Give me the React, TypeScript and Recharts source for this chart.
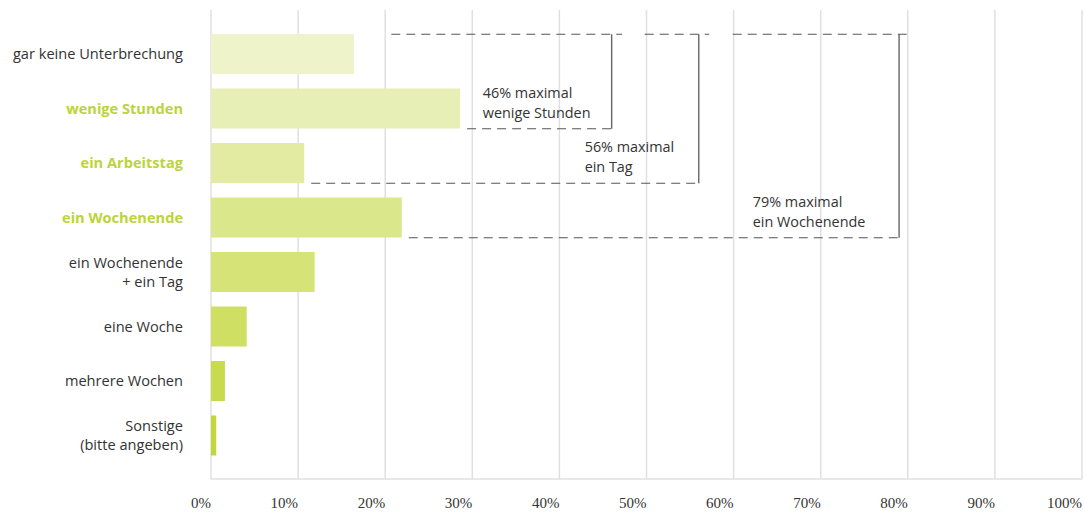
import React from 'react';
import {
  BarChart,
  Bar,
  XAxis,
  YAxis,
  CartesianGrid,
  Cell,
  ReferenceLine,
  ReferenceDot,
} from 'recharts';

// ---- data ----
const categories = [
  'gar keine Unterbrechung',
  'wenige Stunden',
  'ein Arbeitstag',
  'ein Wochenende',
  'ein Wochenende\n+ ein Tag',
  'eine Woche',
  'mehrere Wochen',
  'Sonstige\n(bitte angeben)',
];
const values = [16.4, 28.6, 10.7, 21.9, 11.9, 4.1, 1.6, 0.6];
const highlighted = ['wenige Stunden', 'ein Arbeitstag', 'ein Wochenende'];
const barColors = [
  '#eef3c9',
  '#e8efb6',
  '#e2eba1',
  '#dbe78b',
  '#d5e377',
  '#cfdf63',
  '#c8da4e',
  '#c3d73c',
];
const xTicks = [0, 10, 20, 30, 40, 50, 60, 70, 80, 90, 100];

// cumulative brackets
const bracketTotals = [46, 56, 79];
const bracketEndIndex = [1, 2, 3];
const bracketLabels = [
  ['46% maximal', 'wenige Stunden'],
  ['56% maximal', 'ein Tag'],
  ['79% maximal', 'ein Wochenende'],
];
const bracketTopStart = [20.7, 49.8, 59.9];
const bracketTopOverhang = 1.2;
const bracketLabelX = [31.2, 42.9, 62.2];

const data = categories.map((name, i) => ({ name, value: values[i] }));

// ---- styles ----
const GREEN = '#bcd43a';
const TEXT = '#333333';
const GRID = '#e0e0e0';
const HALF_BAR = 20;
const DASH_COLOR = '#555555';

const YTick = (props: any) => {
  const { x, y, payload } = props;
  const label = String(payload.value);
  const lines = label.split('\n');
  const hl = highlighted.includes(label);
  const lh = 19;
  const start = y - ((lines.length - 1) * lh) / 2 + 5;
  return (
    <text
      textAnchor="end"
      fontFamily="'Open Sans', sans-serif"
      fontSize={14.6}
      fontWeight={hl ? 700 : 400}
      fill={hl ? GREEN : TEXT}
    >
      {lines.map((l, i) => (
        <tspan key={i} x={x} y={start + i * lh}>
          {l}
        </tspan>
      ))}
    </text>
  );
};

const XTick = (props: any) => {
  const { x, y, payload } = props;
  return (
    <text
      x={x}
      y={y + 29}
      textAnchor="end"
      fontFamily="'Liberation Serif', serif"
      fontSize={15}
      fill={TEXT}
    >
      {payload.value}%
    </text>
  );
};

const TopDash = (p: any) => (
  <line
    x1={p.x1}
    y1={p.y1 - HALF_BAR}
    x2={p.x2}
    y2={p.y2 - HALF_BAR}
    stroke={DASH_COLOR}
    strokeWidth={1.2}
    strokeDasharray="9 6"
  />
);

const BottomDash = (p: any) => (
  <line
    x1={p.x1 + 7}
    y1={p.y1 + HALF_BAR}
    x2={p.x2}
    y2={p.y2 + HALF_BAR}
    stroke={DASH_COLOR}
    strokeWidth={1.2}
    strokeDasharray="9 6"
  />
);

const Vertical = (p: any) => (
  <line
    x1={p.x1}
    y1={p.y1 - HALF_BAR}
    x2={p.x2}
    y2={p.y2 + HALF_BAR}
    stroke="#666666"
    strokeWidth={1.4}
  />
);

const makeLabel = (lines: string[]) => (p: any) => (
  <text fontFamily="'Open Sans', sans-serif" fontSize={14.4} fill={TEXT}>
    <tspan x={p.cx} y={p.cy - 11}>
      {lines[0]}
    </tspan>
    <tspan x={p.cx} y={p.cy + 9}>
      {lines[1]}
    </tspan>
  </text>
);

export default function App() {
  return (
    <div style={{ position: 'absolute', left: 0, top: 0 }}>
      <BarChart
        width={1085}
        height={513}
        data={data}
        layout="vertical"
        margin={{ top: 10, right: 3, bottom: 4, left: 0 }}
      >
        <CartesianGrid
          horizontal={false}
          vertical={true}
          stroke={GRID}
          strokeWidth={1.5}
        />
        <XAxis
          type="number"
          domain={[0, 100]}
          ticks={xTicks}
          interval={0}
          axisLine={{ stroke: GRID, strokeWidth: 1.5 }}
          tickLine={false}
          tickSize={0}
          tickMargin={0}
          height={30}
          tick={<XTick />}
        />
        <YAxis
          type="category"
          dataKey="name"
          width={211}
          axisLine={false}
          tickLine={false}
          tickSize={0}
          tickMargin={28}
          interval={0}
          padding={{ top: 17, bottom: 16 }}
          tick={<YTick />}
        />
        <Bar dataKey="value" barSize={40} isAnimationActive={false}>
          {data.map((d, i) => (
            <Cell key={d.name} fill={barColors[i]} />
          ))}
        </Bar>
        {bracketTotals.map((t, b) => (
          <ReferenceLine
            key={'top' + b}
            segment={[
              { x: bracketTopStart[b], y: categories[0] },
              { x: t + bracketTopOverhang, y: categories[0] },
            ]}
            shape={TopDash}
            ifOverflow="visible"
          />
        ))}
        {bracketTotals.map((t, b) => {
          const k = bracketEndIndex[b];
          return (
            <ReferenceLine
              key={'vert' + b}
              segment={[
                { x: t, y: categories[0] },
                { x: t, y: categories[k] },
              ]}
              shape={Vertical}
              ifOverflow="visible"
            />
          );
        })}
        {bracketTotals.map((t, b) => {
          const k = bracketEndIndex[b];
          return (
            <ReferenceLine
              key={'bot' + b}
              segment={[
                { x: values[k], y: categories[k] },
                { x: t, y: categories[k] },
              ]}
              shape={BottomDash}
              ifOverflow="visible"
            />
          );
        })}
        {bracketTotals.map((t, b) => {
          const k = bracketEndIndex[b];
          return (
            <ReferenceDot
              key={'lab' + b}
              x={bracketLabelX[b]}
              y={categories[k]}
              r={1}
              shape={makeLabel(bracketLabels[b])}
              ifOverflow="visible"
            />
          );
        })}
      </BarChart>
    </div>
  );
}
